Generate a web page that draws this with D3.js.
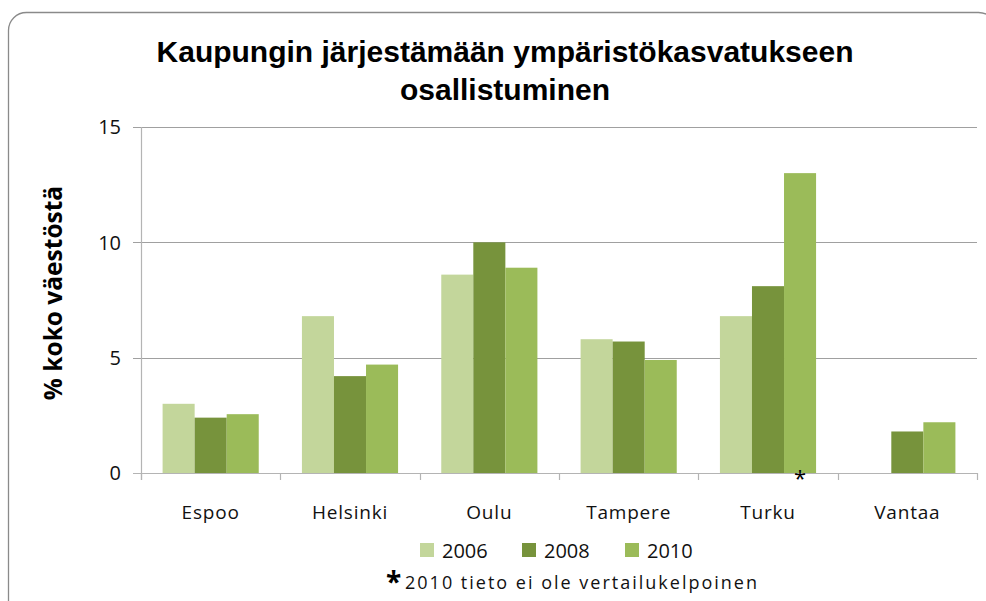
<!DOCTYPE html>
<html>
<head>
<meta charset="utf-8">
<script src="https://cdn.jsdelivr.net/npm/d3@7"></script>
<style>
  body { margin: 0; background: #fff; }
  svg { display: block; }
</style>
</head>
<body>
<svg id="chart" width="986" height="601"></svg>
<script>
// data
var categories = ["Espoo", "Helsinki", "Oulu", "Tampere", "Turku", "Vantaa"];
var years = ["2006", "2008", "2010"];
var v2006 = [3.0, 6.8, 8.6, 5.8, 6.8, null];
var v2008 = [2.4, 4.2, 10.0, 5.7, 8.1, 1.8];
var v2010 = [2.55, 4.7, 8.9, 4.9, 13.0, 2.2];
var yTicks = [0, 5, 10, 15];
var colors = ["#C3D69B", "#77933C", "#9BBB59"];
var titleLines = ["Kaupungin järjestämään ympäristökasvatukseen", "osallistuminen"];
var yLabel = "% koko väestöstä";
var note = "2010 tieto ei ole vertailukelpoinen";
var starCategory = "Turku";

var series = [v2006, v2008, v2010];
var rows = [];
categories.forEach(function (c, i) {
    years.forEach(function (y, j) {
        rows.push({ cat: c, year: y, value: series[j][i] });
    });
});

var svg = d3.select("#chart");
var plot = { left: 141, right: 977, top: 127, bottom: 473 };

// outer frame (rounded, cut off at right/bottom)
svg.append("rect")
    .attr("x", 8.5).attr("y", 12.5)
    .attr("width", 988).attr("height", 640)
    .attr("rx", 18)
    .attr("fill", "none")
    .attr("stroke", "#8a8a8a")
    .attr("stroke-width", 1.3);

// title
svg.append("g").selectAll("text")
    .data(titleLines)
    .enter()
    .append("text")
    .attr("x", 505)
    .attr("y", function (d, i) { return 62 + i * 38; })
    .attr("text-anchor", "middle")
    .style("font-family", "'Liberation Sans', Arial, sans-serif")
    .style("font-weight", "bold")
    .style("font-size", "30px")
    .text(function (d) { return d; });

// scales
var x0 = d3.scaleBand()
    .domain(categories)
    .range([plot.left, plot.right])
    .paddingInner(0.31)
    .paddingOuter(0.155);
var x1 = d3.scaleBand()
    .domain(years)
    .range([0, x0.bandwidth()]);
var y = d3.scaleLinear()
    .domain([0, 15])
    .range([plot.bottom, plot.top]);
var color = d3.scaleOrdinal().domain(years).range(colors);

// gridlines
svg.append("g").selectAll("line")
    .data(yTicks)
    .enter()
    .append("line")
    .attr("x1", plot.left - 8)
    .attr("x2", plot.right)
    .attr("y1", function (d) { return Math.round(y(d)) + 0.5; })
    .attr("y2", function (d) { return Math.round(y(d)) + 0.5; })
    .attr("stroke", function (d) { return d == 0 ? "#b4b4b4" : "#a0a0a0"; })
    .attr("stroke-width", 1.2);

// y tick labels
svg.append("g").selectAll("text")
    .data(yTicks)
    .enter()
    .append("text")
    .attr("x", 121)
    .attr("y", function (d) { return y(d); })
    .attr("dy", "0.36em")
    .attr("text-anchor", "end")
    .style("font-family", "'Open Sans', sans-serif")
    .style("font-size", "20px")
    .attr("fill", "#111")
    .text(function (d) { return d; });

// bars
svg.append("g").selectAll("rect")
    .data(rows.filter(function (d) { return d.value != null; }))
    .enter()
    .append("rect")
    .attr("x", function (d) { return x0(d.cat) + x1(d.year); })
    .attr("width", x1.bandwidth())
    .attr("y", function (d) { return y(d.value); })
    .attr("height", function (d) { return y(0) - y(d.value); })
    .attr("fill", function (d) { return color(d.year); });

// y axis line + category ticks
svg.append("line")
    .attr("x1", plot.left + 0.5).attr("x2", plot.left + 0.5)
    .attr("y1", plot.top).attr("y2", plot.bottom + 7)
    .attr("stroke", "#b4b4b4").attr("stroke-width", 1.2);

var bounds = categories.map(function (c) {
    return x0(c) - x0.step() * x0.paddingInner() / 2;
});
bounds.push(plot.right);
svg.append("g").selectAll("line")
    .data(bounds)
    .enter()
    .append("line")
    .attr("x1", function (d) { return Math.round(d) + 0.5; })
    .attr("x2", function (d) { return Math.round(d) + 0.5; })
    .attr("y1", plot.bottom)
    .attr("y2", plot.bottom + 7)
    .attr("stroke", "#b4b4b4")
    .attr("stroke-width", 1.2);

// category labels
svg.append("g").selectAll("text")
    .data(categories)
    .enter()
    .append("text")
    .attr("x", function (d) { return x0(d) + x0.bandwidth() / 2; })
    .attr("y", 519)
    .attr("text-anchor", "middle")
    .style("font-family", "'Open Sans', sans-serif")
    .style("font-size", "19px")
    .style("letter-spacing", "0.8px")
    .attr("fill", "#111")
    .text(function (d) { return d; });

// star under Turku 2010
svg.append("text")
    .attr("x", x0(starCategory) + x1("2010") + x1.bandwidth() / 2)
    .attr("y", 486)
    .attr("text-anchor", "middle")
    .style("font-family", "'Open Sans', sans-serif")
    .style("font-size", "22px")
    .text("*");

// y label
svg.append("text")
    .attr("transform", "translate(62,293) rotate(-90)")
    .attr("text-anchor", "middle")
    .style("font-family", "'Open Sans', sans-serif")
    .style("font-weight", "bold")
    .style("font-size", "24.5px")
    .text(yLabel);

// legend
var legendX = [420, 522, 625];
var legend = svg.append("g").selectAll("g")
    .data(years)
    .enter()
    .append("g")
    .attr("transform", function (d, i) { return "translate(" + legendX[i] + ",543)"; });
legend.append("rect")
    .attr("width", 14).attr("height", 14)
    .attr("fill", function (d) { return color(d); });
legend.append("text")
    .attr("x", 22).attr("y", 15)
    .style("font-family", "'Open Sans', sans-serif")
    .style("font-size", "20px")
    .attr("fill", "#111")
    .text(function (d) { return d; });

// footnote
svg.append("text")
    .attr("x", 386).attr("y", 592)
    .style("font-family", "'Open Sans', sans-serif")
    .style("font-weight", "bold")
    .style("font-size", "28px")
    .text("*");
svg.append("text")
    .attr("x", 405).attr("y", 589)
    .style("font-family", "'Open Sans', sans-serif")
    .style("font-size", "18px")
    .style("letter-spacing", "2px")
    .attr("fill", "#111")
    .text(note);
</script>
</body>
</html>
